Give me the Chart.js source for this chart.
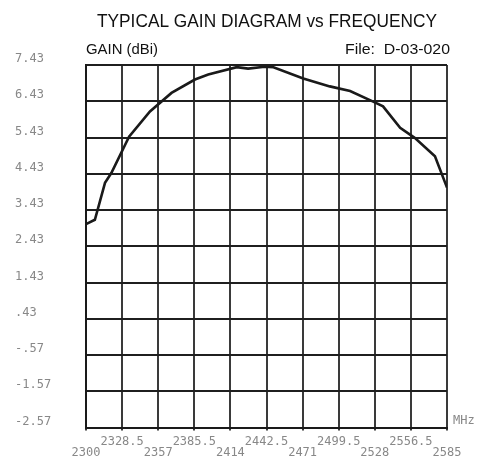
<!DOCTYPE html>
<html>
<head>
<meta charset="utf-8">
<script src="https://cdn.jsdelivr.net/npm/chart.js@4.4.0/dist/chart.umd.min.js"></script>
<style>
html,body{margin:0;padding:0;background:#fff;}
#wrap{width:485px;height:462px;position:relative;}
</style>
</head>
<body>
<div id="wrap"><canvas id="c" width="485" height="462"></canvas></div>
<script>
// ---- data ----
const freqs = [2300, 2307, 2315, 2320, 2334, 2350.5, 2367.5, 2386, 2396.5, 2419, 2428, 2441, 2448, 2471.5, 2492.5, 2508.5, 2528, 2534.5, 2548, 2559.5, 2575.5, 2585];
const gains = [3.04, 3.16, 4.18, 4.45, 5.45, 6.15, 6.66, 7.03, 7.17, 7.37, 7.33, 7.38, 7.37, 7.06, 6.84, 6.71, 6.40, 6.29, 5.70, 5.42, 4.91, 4.05];
const xTickValues = [2300, 2328.5, 2357, 2385.5, 2414, 2442.5, 2471, 2499.5, 2528, 2556.5, 2585];
const xTickLabels = ['2300', '2328.5', '2357', '2385.5', '2414', '2442.5', '2471', '2499.5', '2528', '2556.5', '2585'];
const yTickValues = [7.43, 6.43, 5.43, 4.43, 3.43, 2.43, 1.43, 0.43, -0.57, -1.57, -2.57];
const yTickLabels = ['7.43', '6.43', '5.43', '4.43', '3.43', '2.43', '1.43', '.43', '-.57', '-1.57', '-2.57'];
const titleText = 'TYPICAL GAIN DIAGRAM vs FREQUENCY';
const yUnitText = 'GAIN (dBi)';
const fileText = 'File:  D-03-020';
const xUnitText = 'MHz';

const mono = '"DejaVu Sans Mono", "Liberation Mono", monospace';
const sans = '"Liberation Sans", Arial, sans-serif';

function drawFitted(ctx, text, x, y, width, font, align) {
  ctx.save();
  ctx.font = font;
  const w = ctx.measureText(text).width;
  const s = width / w;
  ctx.translate(x, y);
  ctx.scale(s, 1);
  ctx.textBaseline = 'alphabetic';
  ctx.textAlign = align;
  ctx.fillText(text, 0, 0);
  ctx.restore();
}

const textPlugin = {
  id: 'texts',
  afterDraw(chart) {
    const ctx = chart.ctx;
    const a = chart.chartArea;
    ctx.save();
    ctx.fillStyle = '#111';
    drawFitted(ctx, titleText, 97, 27, 340, '500 18px ' + sans, 'left');
    drawFitted(ctx, yUnitText, 86, 54, 72, '14px ' + sans, 'left');
    drawFitted(ctx, fileText, 450, 54, 105, '14px ' + sans, 'right');
    ctx.fillStyle = '#888';
    ctx.font = '12px ' + mono;
    ctx.textBaseline = 'middle';
    ctx.textAlign = 'left';
    ctx.fillText(xUnitText, a.right + 6, a.bottom - 7);
    ctx.restore();
  }
};

new Chart(document.getElementById('c'), {
  type: 'line',
  data: {
    datasets: [{
      data: freqs.map((f, i) => ({x: f, y: gains[i]})),
      borderColor: '#1a1a1a',
      borderWidth: 2.6,
      pointRadius: 0,
      tension: 0,
      fill: false
    }]
  },
  options: {
    responsive: false,
    animation: false,
    devicePixelRatio: 1,
    layout: {padding: {left: 15, right: 38, top: 65, bottom: 0}},
    plugins: {legend: {display: false}, tooltip: {enabled: false}, title: {display: false}},
    scales: {
      x: {
        type: 'linear',
        min: 2300, max: 2585,
        afterBuildTicks(scale) { scale.ticks = xTickValues.map(v => ({value: v})); },
        afterFit(scale) { scale.height = 34.5; },
        grid: {color: '#3a3a3a', lineWidth: 2, tickLength: 3, drawTicks: true},
        border: {color: '#1a1a1a', width: 2},
        ticks: {
          autoSkip: false,
          maxRotation: 0,
          padding: 6,
          color: '#888',
          font: {family: mono, size: 12, lineHeight: 0.92},
          callback(v, i) { return i % 2 === 0 ? ['', xTickLabels[i]] : [xTickLabels[i], '']; }
        }
      },
      y: {
        type: 'linear',
        min: -2.57, max: 7.43,
        afterBuildTicks(scale) { scale.ticks = yTickValues.map(v => ({value: v})); },
        afterFit(scale) { scale.width = 71; },
        grid: {color: '#1f1f1f', lineWidth: 2, drawTicks: false},
        border: {color: '#1a1a1a', width: 2},
        ticks: {
          autoSkip: false,
          crossAlign: 'far',
          labelOffset: -6,
          color: '#888',
          font: {family: mono, size: 12},
          callback(v, i) { return yTickLabels[i]; }
        }
      }
    }
  },
  plugins: [textPlugin]
});
</script>
</body>
</html>
